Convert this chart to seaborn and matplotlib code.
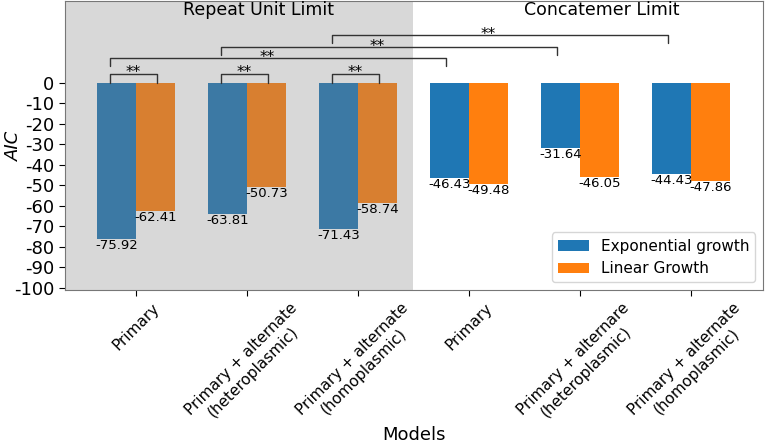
import numpy as np
import pandas as pd
import seaborn as sns
import matplotlib.pyplot as plt

sns.set_style("white")
plt.rcParams['axes.unicode_minus'] = False
plt.rcParams['text.color'] = 'black'
plt.rcParams['axes.labelcolor'] = 'black'
plt.rcParams['xtick.color'] = 'black'
plt.rcParams['ytick.color'] = 'black'

# AIC values
model_labels = ['Primary',
                'Primary + alternate\n(heteroplasmic)',
                'Primary + alternate\n(homoplasmic)',
                'Primary',
                'Primary + alternare\n(heteroplasmic)',
                'Primary + alternate\n(homoplasmic)']
exp_aic = [-75.92, -63.81, -71.43, -46.43, -31.64, -44.43]
lin_aic = [-62.41, -50.73, -58.74, -49.48, -46.05, -47.86]
growth = ['Exponential growth', 'Linear Growth']

# brackets: (start model, end model, bar height, leg bottom)
long_pairs = [(0, 3, 12.2, 8.3), (1, 4, 17.6, 13.6), (2, 5, 23.4, 19.5)]

n = len(model_labels)
data = pd.DataFrame({
    'model': list(range(n)) * 2,
    'AIC': exp_aic + lin_aic,
    'growth': [growth[0]] * n + [growth[1]] * n,
})

fig = plt.figure(figsize=(7.65, 4.44), dpi=100)
ax = fig.add_axes([65 / 765, 154 / 444, 698 / 765, 289 / 444])

sns.barplot(ax=ax, data=data, x='model', y='AIC', hue='growth',
            palette=['#1f77b4', '#ff7f0e'], saturation=1, width=0.7,
            errorbar=None, linewidth=0)

# value labels under each bar
for i in range(n):
    ax.text(i - 0.175, exp_aic[i], '{:.2f}'.format(exp_aic[i]),
            ha='center', va='top', fontsize=9.5, zorder=5)
    ax.text(i + 0.175, lin_aic[i], '{:.2f}'.format(lin_aic[i]),
            ha='center', va='top', fontsize=9.5, zorder=5)

# grey shading over the repeat unit limit models
ax.axvspan(-0.64, 2.5, color='grey', alpha=0.3, lw=0, zorder=2.5)

lc = '#333333'
# short brackets within each model
for i in range(3):
    x1, x2 = i - 0.235, i + 0.19
    ax.plot([x1, x1, x2, x2], [0, 4.4, 4.4, 0], color=lc, lw=1, zorder=4)
    ax.text((x1 + x2) / 2, 2.9, '**', ha='center', va='baseline',
            fontsize=11, zorder=5)

# long brackets between the two limits
for a, b, top, leg in long_pairs:
    x1, x2 = a - 0.235, b - 0.21
    ax.plot([x1, x1, x2, x2], [leg, top, top, leg], color=lc, lw=1, zorder=4)
    ax.text((x1 + x2) / 2 - 0.1, top - 1.8, '**', ha='center', va='baseline',
            fontsize=11, zorder=5)

ax.text(1.1, 35.6, 'Repeat Unit Limit', ha='center', va='center',
        fontsize=12.5, zorder=5)
ax.text(4.2, 35.6, 'Concatemer Limit', ha='center', va='center',
        fontsize=12.5, zorder=5)

ax.set_xlim(-0.64, 5.65)
ax.set_ylim(-101, 40)
ax.set_yticks(np.arange(-100, 1, 10))
ax.tick_params(axis='y', labelsize=13, left=True, length=4)
ax.set_xticks(range(n))
ax.set_xticklabels(model_labels, rotation=45, ha='center', fontsize=11,
                   multialignment='center')
ax.tick_params(axis='x', bottom=True, length=4)
ax.set_xlabel('Models', fontsize=13)
ax.set_ylabel('AIC', fontsize=13, style='italic')
ax.xaxis.set_label_coords(0.5, -0.47)
ax.yaxis.set_label_coords(-0.06, 0.5)

for s in ax.spines.values():
    s.set_color('#777777')

ax.legend(loc='lower right', fontsize=11, frameon=True)

fig.savefig('out.png', dpi=100)
